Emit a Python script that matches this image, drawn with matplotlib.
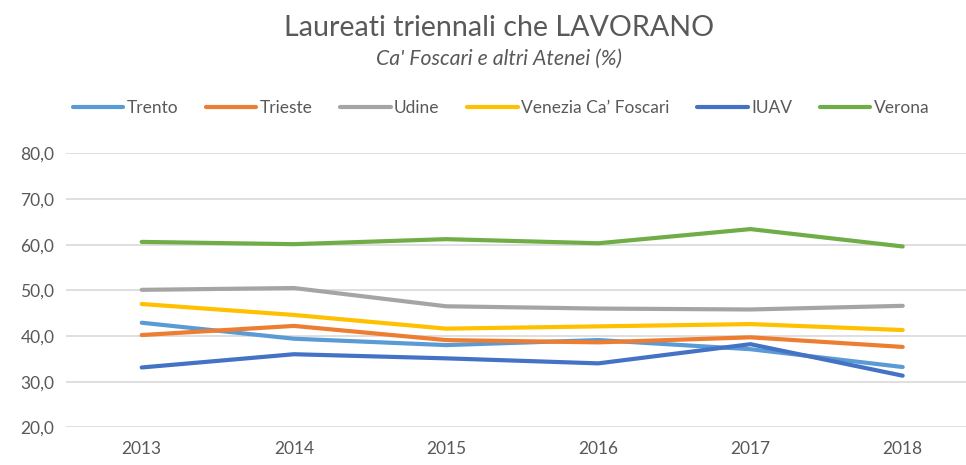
import matplotlib
matplotlib.use("Agg")
import matplotlib.pyplot as plt
from matplotlib.lines import Line2D

years = ["2013", "2014", "2015", "2016", "2017", "2018"]
series_names = ["Trento", "Trieste", "Udine", "Venezia Ca’ Foscari", "IUAV", "Verona"]
trento = [42.9, 39.4, 38.0, 39.1, 37.1, 33.2]
trieste = [40.2, 42.2, 39.1, 38.6, 39.7, 37.6]
udine = [50.1, 50.5, 46.5, 46.0, 45.8, 46.6]
venezia = [47.0, 44.6, 41.6, 42.1, 42.6, 41.3]
iuav = [33.1, 36.0, 35.1, 34.0, 38.2, 31.3]
verona = [60.6, 60.1, 61.2, 60.3, 63.4, 59.6]
y_ticks = [20, 30, 40, 50, 60, 70, 80]

colors = ["#5B9BD5", "#ED7D31", "#A5A5A5", "#FFC000", "#4472C4", "#70AD47"]
values = [trento, trieste, udine, venezia, iuav, verona]

plt.rcParams['font.family'] = ['Lato', 'DejaVu Sans']

fig = plt.figure(figsize=(9.66, 4.65), dpi=100)
W, H = 966, 465
left, right = 65.6, 978.8
top, bottom = 153.3, 427.3
ax = fig.add_axes([left / W, (H - bottom) / H, (right - left) / W, (bottom - top) / H])

x = list(range(len(years)))
for name, vals, c in zip(series_names, values, colors):
    ax.plot(x, vals, color=c, lw=3.0, solid_capstyle='round', label=name, zorder=3)

ax.set_xlim(-0.5, len(years) - 0.5)
ax.set_ylim(20, 80)
ax.set_yticks(y_ticks)
ax.set_yticklabels([f"{v:.1f}".replace('.', ',') for v in y_ticks])
ax.set_xticks(x)
ax.set_xticklabels(years)
ax.grid(axis='y', color='#D9D9D9', lw=1.2, zorder=0)
ax.set_axisbelow(True)
for s in ax.spines.values():
    s.set_visible(False)
ax.tick_params(axis='both', length=0, labelsize=12.5, colors='#595959', pad=8)
ax.tick_params(axis='x', pad=10)

fig.text(499.5 / W, 1 - 28 / H, "Laureati triennali che LAVORANO", ha='center', va='center',
         fontsize=20.6, color='#595959', fontweight='normal')
fig.text(499.5 / W, 1 - 59 / H, "Ca' Foscari e altri Atenei (%)", ha='center', va='center',
         fontsize=15.3, color='#595959', style='italic')

leg_handles = [Line2D([0], [0], color=c, lw=3.0, solid_capstyle='round') for c in colors]
leg = fig.legend(leg_handles, series_names, loc='center', bbox_to_anchor=(501 / W, 1 - 108 / H),
                 ncol=6, frameon=False, fontsize=12.5, handlelength=2.9, handletextpad=0.2,
                 columnspacing=1.6, labelcolor='#595959')

fig.savefig("out.png", dpi=100, facecolor='white')
